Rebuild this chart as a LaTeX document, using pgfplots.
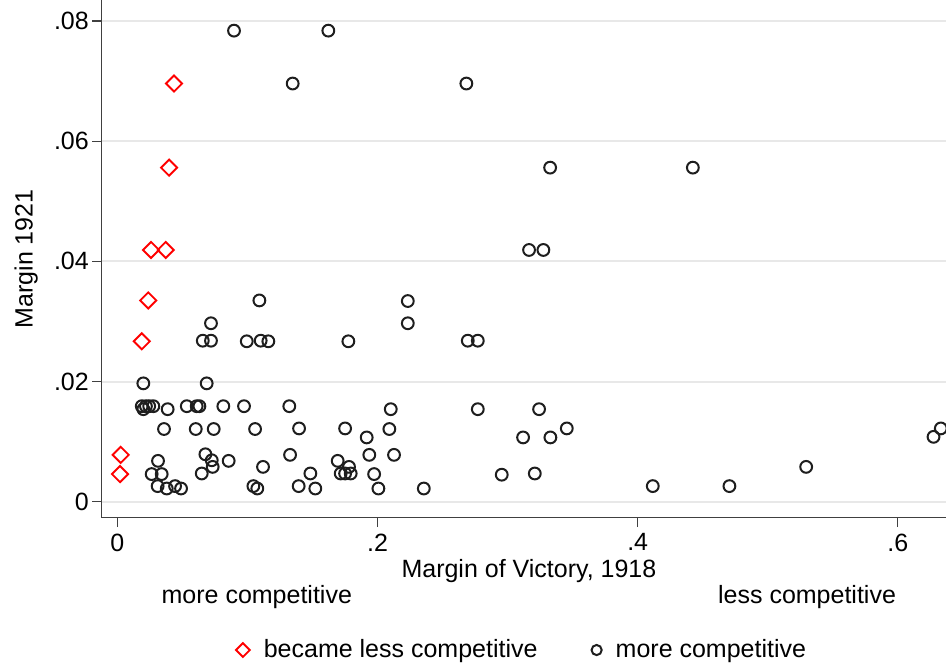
\documentclass[border=0pt]{standalone}
\usepackage{fontspec}
\setmainfont{Liberation Sans}
\usepackage{pgfplots}
\pgfplotsset{compat=1.18}

\definecolor{markgray}{HTML}{1E1E1E}
\definecolor{axisgray}{HTML}{404040}
\definecolor{gridgray}{HTML}{E8E8E8}
\definecolor{statared}{HTML}{FF0000}

% constituencies whose margin widened between elections
\pgfplotstableread{
x y
0.0436 0.0696
0.0398 0.0556
0.0259 0.0419
0.0372 0.0419
0.0238 0.0335
0.0188 0.0267
0.0026 0.0078
0.0021 0.0046
}\lesscomp

% constituencies that became more competitive
\pgfplotstableread{
x y
0.0897 0.0784
0.1622 0.0784
0.1348 0.0696
0.2683 0.0696
0.3327 0.0556
0.4424 0.0556
0.3165 0.0419
0.3275 0.0419
0.1092 0.0335
0.2233 0.0334
0.0720 0.0297
0.2233 0.0297
0.0657 0.0268
0.0720 0.0268
0.0995 0.0267
0.1102 0.0268
0.1161 0.0267
0.1776 0.0267
0.2694 0.0268
0.2771 0.0268
0.0200 0.0197
0.0687 0.0197
0.0188 0.0159
0.0200 0.0154
0.0220 0.0159
0.0245 0.0159
0.0277 0.0159
0.0387 0.0154
0.0534 0.0159
0.0610 0.0159
0.0631 0.0159
0.0815 0.0159
0.0974 0.0159
0.1322 0.0159
0.2102 0.0154
0.2771 0.0154
0.3242 0.0154
0.0359 0.0121
0.0603 0.0121
0.0741 0.0121
0.1059 0.0121
0.1397 0.0122
0.1751 0.0122
0.2091 0.0121
0.3455 0.0122
0.6330 0.0122
0.1917 0.0107
0.3119 0.0107
0.3329 0.0107
0.6274 0.0108
0.0677 0.0079
0.1328 0.0078
0.1937 0.0078
0.2127 0.0078
0.0726 0.0069
0.0313 0.0068
0.0856 0.0068
0.1694 0.0068
0.0733 0.0058
0.1120 0.0058
0.1781 0.0058
0.5295 0.0058
0.0264 0.0046
0.0341 0.0046
0.0649 0.0047
0.1484 0.0047
0.1717 0.0047
0.1751 0.0047
0.1794 0.0047
0.1974 0.0046
0.2955 0.0045
0.3209 0.0047
0.0310 0.0026
0.0444 0.0026
0.1046 0.0026
0.1394 0.0026
0.4116 0.0026
0.4705 0.0026
0.0380 0.0022
0.0490 0.0022
0.1076 0.0022
0.1522 0.0022
0.2007 0.0022
0.2356 0.0022
}\morecomp

\begin{document}
\begin{tikzpicture}
\path[use as bounding box] (0,0) rectangle (473pt,333pt);
\begin{axis}[
  at={(50.85pt,74.15pt)}, anchor=south west,
  scale only axis, width=422.15pt, height=258.85pt,
  font=\fontsize{12.5}{15}\selectfont,
  xmin=-0.012, xmax=0.637, ymin=-0.00266, ymax=0.0835,
  axis x line*=bottom, axis y line*=left,
  axis line style={draw=axisgray, line width=0.6pt, -},
  xtick={0,0.2,0.4,0.6}, xticklabels={0,.2,.4,.6},
  ytick={0,0.02,0.04,0.06,0.08}, yticklabels={0,.02,.04,.06,.08},
  tick align=outside, major tick length=4.75pt,
  tick style={draw=axisgray, line width=0.6pt},
  yticklabel style={inner sep=1.5pt},
  xticklabel style={inner sep=3pt},
  ymajorgrids, major grid style={draw=gridgray, line width=1pt},
  xlabel={Margin of Victory, 1918},
  xlabel style={at={(axis description cs:0.506,-0.103)}, anchor=center},
  ylabel={Margin 1921},
  ylabel style={at={(axis description cs:-0.0895,0.5)}, anchor=center},
  legend columns=2,
  legend style={at={(axis description cs:0.499,-0.2556)}, anchor=center,
    draw=none, fill=none, font=\fontsize{12.5}{15}\selectfont,
    /tikz/every odd column/.append style={column sep=5pt},
    /tikz/every even column/.append style={column sep=25pt}},
  legend image code/.code={\draw[#1, every mark/.append style={scale=0.86}]
    plot coordinates {(0pt,0pt)};},
  clip mode=individual,
]
\addplot[only marks, mark=square, mark size=2.85pt,
  mark options={rotate=45, draw=statared, line width=0.95pt, fill=none}]
  table[x=x, y=y] {\lesscomp};
\addlegendentry{became less competitive}
\addplot[only marks, mark=o, mark size=2.95pt,
  mark options={draw=markgray, line width=1pt, fill=none}]
  table[x=x, y=y] {\morecomp};
\addlegendentry{more competitive}
\node[anchor=center] at (axis description cs:0.1837,-0.1532) {more competitive};
\node[anchor=center] at (axis description cs:0.8354,-0.1532) {less competitive};
\end{axis}
\end{tikzpicture}
\end{document}
